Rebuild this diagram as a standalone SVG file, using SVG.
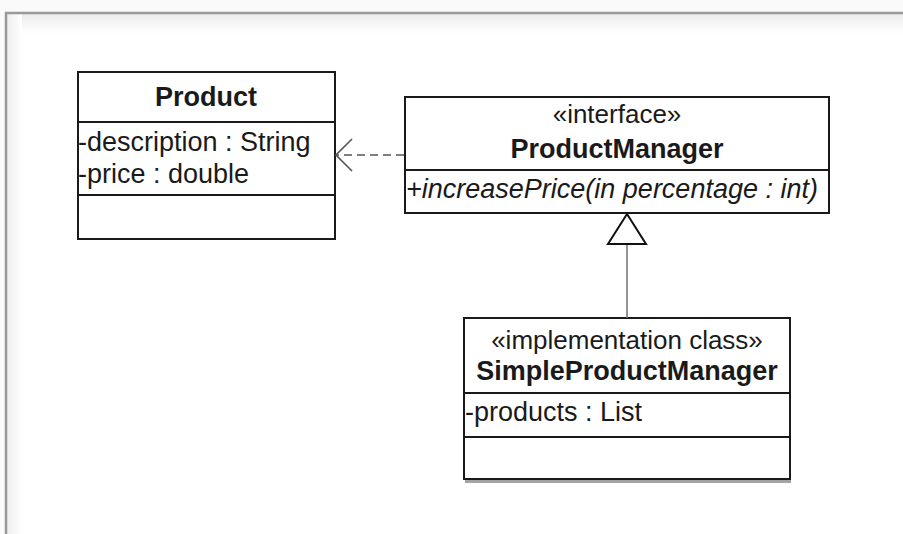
<svg xmlns="http://www.w3.org/2000/svg" width="903" height="534" viewBox="0 0 903 534">
  <defs>
    <linearGradient id="topShade" x1="0" y1="0" x2="0" y2="1">
      <stop offset="0" stop-color="#ececec"/>
      <stop offset="1" stop-color="#ffffff"/>
    </linearGradient>
    <linearGradient id="leftShade" x1="0" y1="0" x2="1" y2="0">
      <stop offset="0" stop-color="#ececec"/>
      <stop offset="1" stop-color="#ffffff"/>
    </linearGradient>
    <marker id="openArrow" viewBox="0 0 20 40" refX="19" refY="20" markerWidth="20" markerHeight="40" markerUnits="userSpaceOnUse" orient="auto">
      <path d="M3,4 L19,20 L3,36" fill="none" stroke="#555" stroke-width="1.6"/>
    </marker>
    <marker id="genArrow" viewBox="0 0 32 42" refX="31" refY="21" markerWidth="32" markerHeight="42" markerUnits="userSpaceOnUse" orient="auto">
      <path d="M31,21 L1,2 L1,40 Z" fill="#fff" stroke="#111" stroke-width="2"/>
    </marker>
  </defs>
  <style>
    .box { fill: #ffffff; stroke: #1a1a1a; stroke-width: 2; }
    .shadow { fill: #666; opacity: 0.6; }
    .sep { stroke: #1a1a1a; stroke-width: 2; }
    text { font-family: "Liberation Sans", Arial, sans-serif; font-size: 27px; fill: #1a1a1a; }
    .name { font-weight: bold; text-anchor: middle; }
    .stereo { text-anchor: middle; font-size: 26px; }
    .op { font-style: italic; }
    .dep { stroke: #555; stroke-width: 1.6; stroke-dasharray: 8 5; fill: none; }
    .gen { stroke: #777; stroke-width: 1.6; fill: none; }
  </style>

  <!-- page frame -->
  <rect x="0" y="0" width="903" height="534" fill="#fafafa"/>
  <rect x="6" y="13" width="897" height="521" fill="#ffffff"/>
  <rect x="6" y="14" width="897" height="20" fill="url(#topShade)"/>
  <rect x="6" y="14" width="16" height="520" fill="url(#leftShade)"/>
  <path d="M6,534 L6,13 L903,13" fill="none" stroke="#999" stroke-width="2.5"/>

  <!-- Product -->
  <g id="product">
    <rect x="78" y="72" width="257" height="167" class="box"/>
    <line x1="78" y1="122" x2="335" y2="122" class="sep"/>
    <line x1="78" y1="195" x2="335" y2="195" class="sep"/>
    <text x="206" y="106" class="name">Product</text>
    <text x="78" y="151">-description : String</text>
    <text x="78" y="183">-price : double</text>
  </g>

  <!-- ProductManager -->
  <g id="productManager">
    <rect x="405" y="97" width="424" height="116" class="box"/>
    <line x1="405" y1="170" x2="829" y2="170" class="sep"/>
    <text x="617" y="123" class="stereo">«interface»</text>
    <text x="617" y="158" class="name">ProductManager</text>
    <text x="406" y="198" class="op">+increasePrice(in percentage : int)</text>
  </g>

  <!-- SimpleProductManager -->
  <g id="simpleProductManager">
    <rect x="465" y="480" width="326" height="3" class="shadow"/>
    <rect x="464" y="318" width="326" height="161" class="box"/>
    <line x1="464" y1="393" x2="790" y2="393" class="sep"/>
    <line x1="464" y1="437" x2="790" y2="437" class="sep"/>
    <text x="627" y="349" class="stereo">«implementation class»</text>
    <text x="627" y="380" class="name">SimpleProductManager</text>
    <text x="465" y="421">-products : List</text>
  </g>

  <!-- connectors -->
  <g id="connectors">
    <line x1="404" y1="155" x2="336" y2="155" class="dep" marker-end="url(#openArrow)"/>
    <line x1="627" y1="318" x2="627" y2="214" class="gen" marker-end="url(#genArrow)"/>
  </g>
</svg>
